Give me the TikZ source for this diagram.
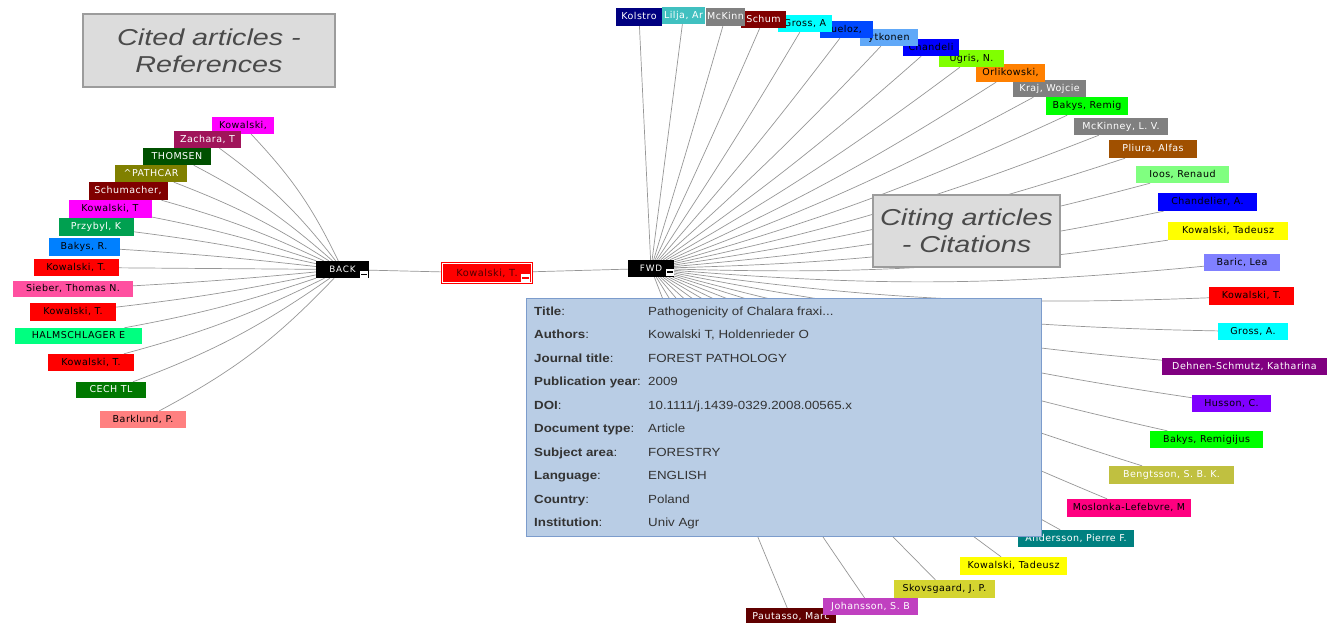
\documentclass[tikz,border=0pt]{standalone}
\usepackage{fontspec}
\newfontfamily\labfont[LetterSpace=5]{DejaVu Sans}
\newfontfamily\hubfont[LetterSpace=10]{DejaVu Sans}
\newfontfamily\infofont[FakeStretch=1.13]{Liberation Sans}
\newfontfamily\titfont[FakeStretch=1.25]{Liberation Sans}
\usetikzlibrary{calc}
\pgfdeclarelayer{bg}
\pgfsetlayers{bg,main}
\definecolor{kNavy}{HTML}{000080}
\definecolor{kLilja}{HTML}{40C0C0}
\definecolor{kGray}{HTML}{808080}
\definecolor{kMaroon}{HTML}{800000}
\definecolor{kCyan}{HTML}{00FFFF}
\definecolor{kQBlue}{HTML}{0048FF}
\definecolor{kPyBlue}{HTML}{60A8F8}
\definecolor{kBlue}{HTML}{0000FF}
\definecolor{kLime}{HTML}{80FF00}
\definecolor{kOrange}{HTML}{FF8000}
\definecolor{kGreen}{HTML}{00FF00}
\definecolor{kBrown}{HTML}{A05000}
\definecolor{kLGreen}{HTML}{80FF80}
\definecolor{kYellow}{HTML}{FFFF00}
\definecolor{kLav}{HTML}{8080FF}
\definecolor{kRed}{HTML}{FF0000}
\definecolor{kPurple}{HTML}{800080}
\definecolor{kViolet}{HTML}{8000FF}
\definecolor{kOlive2}{HTML}{C0C040}
\definecolor{kRose}{HTML}{FF0080}
\definecolor{kTeal}{HTML}{008080}
\definecolor{kYOlive}{HTML}{D4D430}
\definecolor{kOrchid}{HTML}{C040C0}
\definecolor{kDMaroon}{HTML}{600000}
\definecolor{kMag}{HTML}{FF00FF}
\definecolor{kZach}{HTML}{A0145A}
\definecolor{kDGreen}{HTML}{005000}
\definecolor{kOlive}{HTML}{808000}
\definecolor{kPGreen}{HTML}{00A050}
\definecolor{kAzure}{HTML}{0080FF}
\definecolor{kPink}{HTML}{FF50A0}
\definecolor{kSpring}{HTML}{00FF80}
\definecolor{kCech}{HTML}{007800}
\definecolor{kSalmon}{HTML}{FF8080}
\definecolor{kLine}{HTML}{969696}
\definecolor{kTitleFill}{HTML}{DCDCDC}
\definecolor{kTitleLine}{HTML}{9C9C9C}
\definecolor{kTitleTxt}{HTML}{4A4A4A}
\definecolor{kInfoFill}{HTML}{B9CDE5}
\definecolor{kInfoLine}{HTML}{7C9CCC}
\definecolor{kInfoTxt}{HTML}{333333}
\definecolor{kDark}{HTML}{500000}
\tikzset{
  lab/.style={inner sep=0pt, font=\labfont\fontsize{9.5}{11}\selectfont, text height=7pt, text depth=2pt},
  edge/.style={draw=kLine, line width=0.7pt},
  hub/.style={inner sep=0pt, fill=black, text=white, font=\hubfont\fontsize{8.8}{10}\selectfont, text height=6.5pt, text depth=1pt},
  minusbox/.style={fill=white, inner sep=0pt, minimum width=8, minimum height=7},
  titlebox/.style={fill=kTitleFill, draw=kTitleLine, line width=2pt, align=center, text=kTitleTxt, font=\titfont\itshape\fontsize{23}{27}\selectfont},
  infokey/.style={anchor=west, inner sep=0pt, font=\infofont\fontsize{11.8}{13}\selectfont, text=kInfoTxt, text height=9pt, text depth=3pt},
}
\begin{document}
\begin{tikzpicture}[x=1pt,y=1pt]
\useasboundingbox (0,0) rectangle (1327,-622);
\clip (0,0) rectangle (1327,-622);

% hubs
\node[hub, minimum width=53, minimum height=17] (back) at (342.5,-269.5) {BACK};
\node[minusbox, path picture={\draw[black, line width=1.6pt] ([xshift=1.2pt]path picture bounding box.west) -- ([xshift=-1.2pt]path picture bounding box.east);}] (backm) at (364,-274.5) {};
\node[hub, minimum width=46, minimum height=17] (fwd) at (651,-268.5) {FWD};
\node[minusbox, path picture={\draw[black, line width=1.6pt] ([xshift=1.2pt]path picture bounding box.west) -- ([xshift=-1.2pt]path picture bounding box.east);}] (fwdm) at (670,-272) {};
\node[draw=kRed, double=white, double distance=1pt, line width=1pt, fill=kRed, inner sep=0pt, minimum width=89, minimum height=19, text=kDark, font=\labfont\fontsize{9.8}{11}\selectfont] (cur) at (487,-273) {Kowalski, T.};
\node[minusbox, minimum width=9, minimum height=8, path picture={\draw[kRed, line width=1.2pt] ([xshift=1.2pt]path picture bounding box.west) -- ([xshift=-1.2pt]path picture bounding box.east);}] (curm) at (525.5,-278) {};

% left (cited) labels
\foreach \n/\px/\py/\w/\h/\c/\t/\s in {
  L1/243/125.5/62/17/kMag/black/{Kowalski,},
  L2/207.5/139.5/67/17/kZach/white/{Zachara, T},
  L3/177/156.5/68/17/kDGreen/white/{THOMSEN},
  L4/151/173.5/72/17/kOlive/white/{\textasciicircum PATHCAR},
  L5/128/191/79/18/kMaroon/white/{Schumacher,},
  L6/110/209/83/18/kMag/black/{Kowalski, T},
  L7/96/227/75/18/kPGreen/white/{Przybyl, K},
  L8/84/247/71/18/kAzure/black/{Bakys, R.},
  L9/76/267.5/85/17/kRed/black/{Kowalski, T.},
  L10/73/289/120/16/kPink/black/{Sieber, Thomas N.},
  L11/73/312/86/18/kRed/black/{Kowalski, T.},
  L12/78.5/336/127/16/kSpring/black/{HALMSCHLAGER E},
  L13/91/362.5/86/17/kRed/black/{Kowalski, T.},
  L14/111/390/70/16/kCech/white/{CECH TL},
  L15/143/419.5/86/17/kSalmon/black/{Barklund, P.}}
  \node[lab, minimum width=\w, minimum height=\h, fill=\c, text=\t] (\n) at (\px,-\py) {\s};

% right (citing) labels, drawn last-first so earlier ones lie on top
\foreach \n/\px/\py/\w/\h/\c/\t/\s in {
  R30/791/617/90/18/kDMaroon/white/{Pautasso, Marc},
  R29/870.5/606.5/95/17/kOrchid/white/{Johansson, S. B},
  R28/944.5/589/101/18/kYOlive/black/{Skovsgaard, J. P.},
  R27/1013.5/566/107/18/kYellow/black/{Kowalski, Tadeusz},
  R26/1076/538.5/116/17/kTeal/white/{Andersson, Pierre F.},
  R25/1129/508/124/18/kRose/black/{Moslonka-Lefebvre, M},
  R24/1171.5/475/125/18/kOlive2/white/{Bengtsson, S. B. K.},
  R23/1206.5/439.5/113/17/kGreen/black/{Bakys, Remigijus},
  R22/1231.5/403.5/79/17/kViolet/black/{Husson, C.},
  R21/1244.5/366.5/165/17/kPurple/white/{Dehnen-Schmutz, Katharina},
  R20/1253/331.5/70/17/kCyan/black/{Gross, A.},
  R19/1251.5/296/85/18/kRed/black/{Kowalski, T.},
  R18/1242/262.5/76/17/kLav/black/{Baric, Lea},
  R17/1228/231/120/18/kYellow/black/{Kowalski, Tadeusz},
  R16/1207.5/202/99/18/kBlue/black/{Chandelier, A.},
  R15/1182.5/174.5/93/17/kLGreen/black/{Ioos, Renaud},
  R14/1153/149/88/18/kBrown/white/{Pliura, Alfas},
  R13/1121/126.5/94/17/kGray/white/{McKinney, L. V.},
  R12/1087/106/82/18/kGreen/black/{Bakys, Remig},
  R11/1049.5/88.5/73/17/kGray/white/{Kraj, Wojcie},
  R10/1010.5/73/69/18/kOrange/black/{Orlikowski,},
  R9/971.5/58.5/65/17/kLime/black/{Ugris, N.},
  R8/931/47.5/56/17/kBlue/black/{Chandeli},
  R7/889/37.5/58/17/kPyBlue/black/{ytkonen},
  R6/846.5/29.5/53/17/kQBlue/black/{ueloz,},
  R5/805/23.5/54/17/kCyan/black/{Gross, A},
  R4/763.5/19.5/45/17/kMaroon/white/{Schum},
  R3/725.5/17/39/18/kGray/white/{McKinn},
  R2/683.5/15.5/43/17/kLilja/white/{Lilja, Ar},
  R1/639/17/46/18/kNavy/white/{Kolstro}}
  \node[lab, minimum width=\w, minimum height=\h, fill=\c, text=\t] (\n) at (\px,-\py) {\s};

% connectors
\begin{pgfonlayer}{bg}
\foreach \n/\b in {L1/-8.7, L2/-7.8, L3/-6.8, L4/-5.8, L5/-4.7, L6/-3.7, L7/-2.6, L8/-1.4, L9/0, L10/1.1, L11/2.5, L12/4, L13/5.5, L14/7, L15/9}
  \draw[edge] (back) to[bend left=\b] (\n);
\foreach \n/\b in {R1/0, R2/0, R3/0.4, R4/0.8, R5/1.4, R6/2, R7/2.6, R8/3.1, R9/3.5, R10/3.9, R11/4.1, R12/4.4, R13/4.6, R14/4.8, R15/5, R16/5, R17/5, R18/5, R19/5, R20/5, R21/5, R22/4.8, R23/4.6, R24/4.3, R25/4, R26/3.6, R27/3, R28/2.3, R29/1.5, R30/0.7}
  \draw[edge] (fwd) to[bend right=\b] (\n);
\draw[edge] (back) -- (cur);
\draw[edge] (cur) -- (fwd);
\end{pgfonlayer}

% title boxes
\node[titlebox, minimum width=252, minimum height=73] (tb1) at (209,-50.5) {Cited articles -\\References};
\node[titlebox, minimum width=187, minimum height=72] (tb2) at (966.5,-231) {Citing articles\\- Citations};

% info box
\node[fill=kInfoFill, draw=kInfoLine, line width=1pt, minimum width=515, minimum height=238, inner sep=0pt] (info) at (783.5,-417) {};
\node[infokey] (k1) at (534,-312.3) {\textbf{Title}:};
\node[infokey] (v1) at (648,-312.3) {Pathogenicity of Chalara fraxi...};
\node[infokey] (k2) at (534,-335.8) {\textbf{Authors}:};
\node[infokey] (v2) at (648,-335.8) {Kowalski T, Holdenrieder O};
\node[infokey] (k3) at (534,-359.3) {\textbf{Journal title}:};
\node[infokey] (v3) at (648,-359.3) {FOREST PATHOLOGY};
\node[infokey] (k4) at (534,-382.8) {\textbf{Publication year}:};
\node[infokey] (v4) at (648,-382.8) {2009};
\node[infokey] (k5) at (534,-406.3) {\textbf{DOI}:};
\node[infokey] (v5) at (648,-406.3) {10.1111/j.1439-0329.2008.00565.x};
\node[infokey] (k6) at (534,-429.8) {\textbf{Document type}:};
\node[infokey] (v6) at (648,-429.8) {Article};
\node[infokey] (k7) at (534,-453.3) {\textbf{Subject area}:};
\node[infokey] (v7) at (648,-453.3) {FORESTRY};
\node[infokey] (k8) at (534,-476.8) {\textbf{Language}:};
\node[infokey] (v8) at (648,-476.8) {ENGLISH};
\node[infokey] (k9) at (534,-500.3) {\textbf{Country}:};
\node[infokey] (v9) at (648,-500.3) {Poland};
\node[infokey] (k10) at (534,-523.8) {\textbf{Institution}:};
\node[infokey] (v10) at (648,-523.8) {Univ Agr};
\end{tikzpicture}
\end{document}
